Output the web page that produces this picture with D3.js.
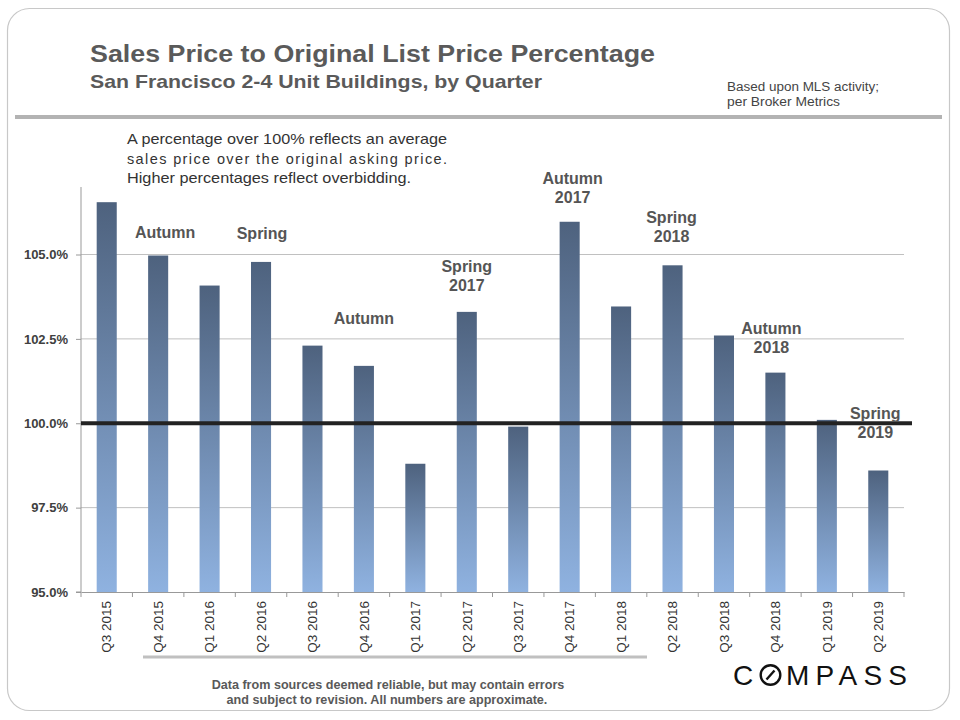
<!DOCTYPE html>
<html><head><meta charset="utf-8">
<script src="https://cdn.jsdelivr.net/npm/d3@7"></script>
<style>body{margin:0;background:#fff}svg{display:block}text{font-family:"Liberation Sans",Arial,sans-serif}</style>
</head><body><svg id="c" width="960" height="720"></svg>
<script>
const categories = ["Q3 2015","Q4 2015","Q1 2016","Q2 2016","Q3 2016","Q4 2016","Q1 2017","Q2 2017","Q3 2017","Q4 2017","Q1 2018","Q2 2018","Q3 2018","Q4 2018","Q1 2019","Q2 2019"];
const values = [106.55,104.97,104.08,104.78,102.3,101.7,98.8,103.3,99.9,105.97,103.46,104.68,102.6,101.5,100.1,98.6];
const yTicks = [95,97.5,100,102.5,105];
const tickLabels = ["95.0%","97.5%","100.0%","102.5%","105.0%"];
const noteCats = ["Q4 2015","Q2 2016","Q4 2016","Q2 2017","Q4 2017","Q2 2018","Q4 2018","Q2 2019"];
const noteLines = [["Autumn"],["Spring"],["Autumn"],["Spring","2017"],["Autumn","2017"],["Spring","2018"],["Autumn","2018"],["Spring","2019"]];
const noteLevels = [105.49, 105.45, 102.94, 103.92, 106.53, 105.38, 102.09, 99.56];

// layout (pixel nudges for annotation labels, not data)
const noteNudge = [7, 1, 0, 0, 3, -1, -4, -3];

const svg = d3.select("#c");
const M = {left:81, right:904, top:187, bottom:592};
const x = d3.scaleBand().domain(categories).range([M.left, M.right]).paddingInner(0.61).paddingOuter(0.305);
const y = d3.scaleLinear().domain([95,107]).range([M.bottom, M.top]);

// frame
svg.append("rect").attr("x",7.5).attr("y",8.5).attr("width",942).attr("height",702).attr("rx",22)
  .attr("fill","#fff").attr("stroke","#c8c8c8").attr("stroke-width",1.2);
svg.append("line").attr("x1",15).attr("x2",942).attr("y1",117).attr("y2",117).attr("stroke","#b3b3b3").attr("stroke-width",4);
svg.append("line").attr("x1",143).attr("x2",647).attr("y1",657).attr("y2",657).attr("stroke","#c0c0c0").attr("stroke-width",3);

// titles
svg.append("text").attr("x",90).attr("y",62).attr("font-size",24).attr("font-weight","bold").attr("fill","#5a5a5a")
  .attr("textLength",565).attr("lengthAdjust","spacingAndGlyphs").text("Sales Price to Original List Price Percentage");
svg.append("text").attr("x",90).attr("y",88).attr("font-size",19).attr("font-weight","bold").attr("fill","#5a5a5a")
  .attr("textLength",452).attr("lengthAdjust","spacingAndGlyphs").text("San Francisco 2-4 Unit Buildings, by Quarter");
svg.append("text").attr("x",727).attr("y",91).attr("font-size",12).attr("fill","#444")
  .attr("textLength",152).attr("lengthAdjust","spacingAndGlyphs").text("Based upon MLS activity;");
svg.append("text").attr("x",727).attr("y",106).attr("font-size",12).attr("fill","#444")
  .attr("textLength",113).attr("lengthAdjust","spacingAndGlyphs").text("per Broker Metrics");

// gridlines
const g = svg.append("g");
g.selectAll("line.grid").data(yTicks.filter(t=>t!==95)).join("line")
  .attr("x1",M.left).attr("x2",M.right).attr("y1",d=>y(d)).attr("y2",d=>y(d))
  .attr("stroke","#c0c0c0").attr("stroke-width",1);

// y axis
const yAxis = d3.axisLeft(y).tickValues(yTicks).tickFormat((d,i)=>tickLabels[i]).tickSize(5).tickPadding(8);
const ya = svg.append("g").attr("transform",`translate(${M.left},0)`).call(yAxis);
ya.select(".domain").attr("stroke","#999").attr("d",`M-5,${M.bottom}H0V${M.top}`);
ya.selectAll(".tick line").attr("stroke","#999");
ya.selectAll(".tick text").attr("font-size",13).attr("font-weight","bold").attr("fill","#404040")
  .attr("font-family","Liberation Sans, Arial, sans-serif");

// gradient
const defs = svg.append("defs");
const grad = defs.append("linearGradient").attr("id","bg").attr("x1",0).attr("x2",0).attr("y1",0).attr("y2",1);
grad.append("stop").attr("offset","0%").attr("stop-color","#4e627e");
grad.append("stop").attr("offset","100%").attr("stop-color","#8fb2e0");

// bars
svg.append("g").selectAll("rect").data(values).join("rect")
  .attr("x",(d,i)=>x(categories[i])).attr("width",x.bandwidth())
  .attr("y",d=>y(d)).attr("height",d=>y(95)-y(d)).attr("fill","url(#bg)");

// x axis
const xAxis = d3.axisBottom(x).tickSize(0).tickPadding(0);
const xa = svg.append("g").attr("transform",`translate(0,${M.bottom})`).call(xAxis);
xa.select(".domain").attr("stroke","#999");
xa.selectAll(".tick text").attr("transform","rotate(-90)").attr("text-anchor","end")
  .attr("x",-9).attr("y",0).attr("dy","0.35em").attr("font-size",13.5).attr("fill","#333")
  .attr("font-family","Liberation Sans, Arial, sans-serif");
const step = x.step();
xa.selectAll("line.sep").data(d3.range(categories.length+1)).join("line")
  .attr("x1",i=>M.left+i*step).attr("x2",i=>M.left+i*step).attr("y1",0).attr("y2",5).attr("stroke","#999");

// 100% reference line
svg.append("line").attr("x1",M.left).attr("x2",912).attr("y1",y(100)).attr("y2",y(100))
  .attr("stroke","#222").attr("stroke-width",4);

// bar annotations
const notes = svg.append("g");
noteCats.forEach((c,i)=>{
  const cx = x(c)+x.bandwidth()/2+noteNudge[i];
  const t = notes.append("text").attr("x",cx).attr("text-anchor","middle")
    .attr("font-size",16).attr("font-weight","bold").attr("fill","#555");
  const lines = noteLines[i];
  const base = y(noteLevels[i]);
  lines.forEach((l,j)=>{
    t.append("tspan").attr("x",cx).attr("y",base-(lines.length-1-j)*19).text(l);
  });
});

// explanatory text
const expl = ["A percentage over 100% reflects an average","sales price over the original asking price.","Higher percentages reflect overbidding."];
const explW = [320,320,284];
expl.forEach((s,i)=>{
  svg.append("text").attr("x",127).attr("y",144+i*19.5).attr("font-size",14.5).attr("fill","#333")
    .attr("textLength",explW[i]).attr("lengthAdjust", i===1?"spacing":"spacingAndGlyphs").text(s);
});

// footer
svg.append("text").attr("x",388).attr("y",689).attr("text-anchor","middle").attr("font-size",12.6).attr("font-weight","bold").attr("fill","#595959")
  .text("Data from sources deemed reliable, but may contain errors");
svg.append("text").attr("x",387).attr("y",704).attr("text-anchor","middle").attr("font-size",12.6).attr("font-weight","bold").attr("fill","#595959")
  .text("and subject to revision. All numbers are approximate.");

// logo
const logo = svg.append("g").attr("fill","#111");
logo.append("text").attr("x",733).attr("y",685).attr("font-size",28).attr("font-family","Lato, sans-serif").text("C");
logo.append("text").attr("x",786).attr("y",685).attr("font-size",28).attr("font-family","Lato, sans-serif")
  .attr("textLength",121).attr("lengthAdjust","spacing").text("MPASS");
logo.append("circle").attr("cx",770.5).attr("cy",675).attr("r",9.8).attr("fill","none").attr("stroke","#111").attr("stroke-width",2.4);
logo.append("line").attr("x1",766.5).attr("y1",679.5).attr("x2",774.5).attr("y2",670.5).attr("stroke","#111").attr("stroke-width",2.4);
</script></body></html>
